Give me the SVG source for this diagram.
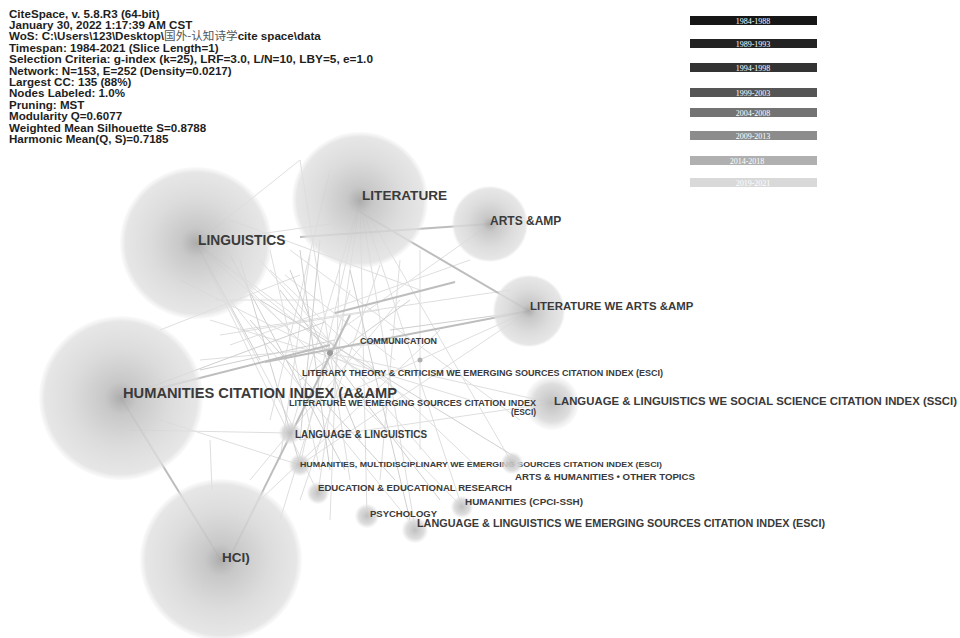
<svg xmlns="http://www.w3.org/2000/svg" width="960" height="638" viewBox="0 0 960 638">
<defs>
<radialGradient id="big" cx="50%" cy="50%" r="50%">
<stop offset="0" stop-color="#a8a8a8" stop-opacity="0.95"/>
<stop offset="0.2" stop-color="#c2c2c2" stop-opacity="0.9"/>
<stop offset="0.6" stop-color="#d6d6d6" stop-opacity="0.85"/>
<stop offset="0.93" stop-color="#e0e0e0" stop-opacity="0.8"/>
<stop offset="1" stop-color="#e8e8e8" stop-opacity="0.2"/>
</radialGradient>
<radialGradient id="small" cx="50%" cy="50%" r="50%">
<stop offset="0" stop-color="#bdbdbd" stop-opacity="0.95"/>
<stop offset="0.7" stop-color="#d8d8d8" stop-opacity="0.85"/>
<stop offset="1" stop-color="#e6e6e6" stop-opacity="0.2"/>
</radialGradient>
</defs>
<style>
.hd{font-family:"Liberation Sans",Arial,"Noto Sans CJK SC",sans-serif;font-weight:bold;font-size:11.6px;fill:#1e1e1e}
.cjk{font-family:"Noto Sans CJK SC",sans-serif;font-weight:normal;fill:#555}
.lg{font-family:"Liberation Serif",serif;font-size:8px;fill:#ffffff;text-anchor:middle}
.lb{font-family:"Liberation Sans",Arial,sans-serif;font-weight:bold;fill:#3a3a3a}
.e1{stroke:#cfcfcf;stroke-width:1;fill:none}
.e2{stroke:#bdbdbd;stroke-width:2;fill:none}
.e3{stroke:#dedede;stroke-width:1;fill:none}
</style>
<rect width="960" height="638" fill="#ffffff"/>

<g id="header">
<text class="hd" x="9" y="17.5">CiteSpace, v. 5.8.R3 (64-bit)</text>
<text class="hd" x="9" y="28.9">January 30, 2022 1:17:39 AM CST</text>
<text class="hd" x="9" y="40.3">WoS: C:\Users\123\Desktop\<tspan class="cjk">国外-认知诗学</tspan>cite space\data</text>
<text class="hd" x="9" y="51.7">Timespan: 1984-2021 (Slice Length=1)</text>
<text class="hd" x="9" y="63.1" textLength="364" lengthAdjust="spacingAndGlyphs">Selection Criteria: g-index (k=25), LRF=3.0, L/N=10, LBY=5, e=1.0</text>
<text class="hd" x="9" y="74.5">Network: N=153, E=252 (Density=0.0217)</text>
<text class="hd" x="9" y="85.9">Largest CC: 135 (88%)</text>
<text class="hd" x="9" y="97.3">Nodes Labeled: 1.0%</text>
<text class="hd" x="9" y="108.7">Pruning: MST</text>
<text class="hd" x="9" y="120.1">Modularity Q=0.6077</text>
<text class="hd" x="9" y="131.5">Weighted Mean Silhouette S=0.8788</text>
<text class="hd" x="9" y="142.9">Harmonic Mean(Q, S)=0.7185</text>
</g>

<g id="legend">
<rect x="690" y="16" width="127" height="9" fill="#161616"/>
<text class="lg" x="753" y="23.5">1984-1988</text>
<rect x="690" y="39" width="127" height="9" fill="#232323"/>
<text class="lg" x="753" y="46.5">1989-1993</text>
<rect x="690" y="63" width="127" height="9" fill="#333333"/>
<text class="lg" x="753" y="70.5">1994-1998</text>
<rect x="690" y="88" width="127" height="9" fill="#555555"/>
<text class="lg" x="753" y="95.5">1999-2003</text>
<rect x="690" y="108" width="127" height="9" fill="#737373"/>
<text class="lg" x="753" y="115.5">2004-2008</text>
<rect x="690" y="131" width="127" height="9" fill="#8c8c8c"/>
<text class="lg" x="753" y="138.5">2009-2013</text>
<rect x="690" y="156" width="127" height="9" fill="#b0b0b0"/>
<text class="lg" x="747" y="163.5">2014-2018</text>
<rect x="690" y="178" width="127" height="9" fill="#d9d9d9"/>
<text class="lg" x="753" y="185.5">2019-2021</text>
</g>

<g id="connectors">
<line class="e3" x1="196" y1="243" x2="300" y2="160"/>
<line class="e3" x1="196" y1="243" x2="330" y2="224"/>
<line class="e3" x1="196" y1="243" x2="290" y2="330"/>
<line class="e3" x1="196" y1="243" x2="300" y2="440"/>
<line class="e3" x1="196" y1="243" x2="318" y2="493"/>
<line class="e3" x1="196" y1="243" x2="370" y2="380"/>
<line class="e3" x1="196" y1="243" x2="410" y2="400"/>
<line class="e3" x1="180" y1="280" x2="360" y2="370"/>
<line class="e3" x1="230" y1="300" x2="415" y2="528"/>
<line class="e3" x1="250" y1="290" x2="462" y2="507"/>
<line class="e3" x1="360" y1="200" x2="300" y2="465"/>
<line class="e3" x1="360" y1="200" x2="318" y2="493"/>
<line class="e3" x1="360" y1="200" x2="367" y2="516"/>
<line class="e3" x1="360" y1="200" x2="415" y2="528"/>
<line class="e3" x1="360" y1="200" x2="462" y2="507"/>
<line class="e3" x1="360" y1="200" x2="512" y2="463"/>
<line class="e3" x1="360" y1="200" x2="290" y2="433"/>
<line class="e3" x1="330" y1="170" x2="270" y2="420"/>
<line class="e3" x1="300" y1="160" x2="350" y2="480"/>
<line class="e3" x1="340" y1="260" x2="330" y2="520"/>
<line class="e3" x1="400" y1="260" x2="380" y2="480"/>
<line class="e3" x1="420" y1="250" x2="420" y2="450"/>
<line class="e3" x1="270" y1="270" x2="480" y2="470"/>
<line class="e3" x1="290" y1="250" x2="520" y2="420"/>
<line class="e3" x1="240" y1="330" x2="510" y2="290"/>
<line class="e3" x1="230" y1="345" x2="470" y2="260"/>
<line class="e3" x1="200" y1="360" x2="420" y2="340"/>
<line class="e3" x1="210" y1="320" x2="470" y2="400"/>
<line class="e3" x1="250" y1="480" x2="400" y2="300"/>
<line class="e3" x1="260" y1="500" x2="440" y2="330"/>
<line class="e3" x1="280" y1="520" x2="350" y2="290"/>
<line class="e3" x1="160" y1="330" x2="300" y2="275"/>
<line class="e3" x1="230" y1="220" x2="420" y2="290"/>
<line class="e3" x1="552" y1="403" x2="330" y2="353"/>
<line class="e3" x1="552" y1="403" x2="300" y2="440"/>
<line class="e3" x1="529" y1="311" x2="330" y2="400"/>
<line class="e3" x1="529" y1="311" x2="300" y2="465"/>
<line class="e3" x1="490" y1="224" x2="340" y2="330"/>
<line class="e3" x1="160" y1="420" x2="300" y2="465"/>
<line class="e3" x1="130" y1="430" x2="290" y2="433"/>
<line class="e3" x1="210" y1="440" x2="212" y2="490"/>
<line class="e3" x1="270" y1="250" x2="320" y2="470"/>
<line class="e3" x1="310" y1="255" x2="280" y2="460"/>
<line class="e3" x1="260" y1="260" x2="440" y2="470"/>
<line class="e3" x1="380" y1="265" x2="300" y2="500"/>
<line class="e3" x1="215" y1="300" x2="320" y2="300"/>
<line class="e3" x1="220" y1="335" x2="380" y2="310"/>
<line class="e3" x1="285" y1="275" x2="395" y2="360"/>
<line class="e1" x1="230" y1="255" x2="345" y2="470"/>
<line class="e1" x1="240" y1="260" x2="300" y2="465"/>
<line class="e1" x1="300" y1="250" x2="330" y2="470"/>
<line class="e1" x1="320" y1="240" x2="300" y2="440"/>
<line class="e1" x1="350" y1="270" x2="410" y2="520"/>
<line class="e1" x1="280" y1="290" x2="440" y2="500"/>
<line class="e1" x1="250" y1="320" x2="395" y2="480"/>
<line class="e1" x1="200" y1="370" x2="335" y2="340"/>
<line class="e1" x1="260" y1="300" x2="520" y2="460"/>
<line class="e1" x1="529" y1="311" x2="390" y2="330"/>
<line class="e1" x1="300" y1="380" x2="410" y2="300"/>
<line class="e1" x1="290" y1="270" x2="360" y2="440"/>
<line class="e2" x1="360" y1="212" x2="529" y2="311"/>
<line class="e2" x1="490" y1="224" x2="300" y2="237"/>
<line class="e2" x1="121" y1="398" x2="221" y2="560"/>
<line class="e2" x1="232" y1="553" x2="350" y2="315"/>
<line class="e2" x1="529" y1="311" x2="265" y2="362"/>
<line class="e2" x1="335" y1="313" x2="455" y2="282"/>
<line class="e2" x1="121" y1="398" x2="330" y2="345"/>
<line class="e1" x1="121" y1="398" x2="325" y2="322"/>
<line class="e1" x1="196" y1="243" x2="260" y2="360"/>
</g>

<g id="node-linguistics">
<circle cx="196" cy="243" r="76" fill="url(#big)"/>
<text class="lb" x="198" y="245" font-size="13.8">LINGUISTICS</text>
</g>
<g id="node-literature">
<circle cx="360" cy="200" r="68" fill="url(#big)"/>
<text class="lb" x="362" y="200" font-size="13.6">LITERATURE</text>
</g>
<g id="node-arts">
<circle cx="490" cy="224" r="38" fill="url(#big)"/>
<text class="lb" x="490" y="225" font-size="12">ARTS &amp;AMP</text>
</g>
<g id="node-literature-we-arts">
<circle cx="529" cy="311" r="36" fill="url(#big)"/>
<text class="lb" x="530" y="310" font-size="11.4">LITERATURE WE ARTS &amp;AMP</text>
</g>
<g id="node-humanities-citation">
<circle cx="121" cy="398" r="82" fill="url(#big)"/>
<text class="lb" x="123" y="398" font-size="14.5" textLength="274" lengthAdjust="spacingAndGlyphs">HUMANITIES CITATION INDEX (A&amp;AMP</text>
</g>
<g id="node-hci">
<circle cx="221" cy="560" r="81" fill="url(#big)"/>
<text class="lb" x="222" y="562" font-size="13.5">HCI)</text>
</g>
<g id="node-lang-ling-ssci">
<circle cx="552" cy="403" r="27" fill="url(#small)"/>
<text class="lb" x="554" y="405" font-size="11" textLength="403" lengthAdjust="spacingAndGlyphs">LANGUAGE &amp; LINGUISTICS WE SOCIAL SCIENCE CITATION INDEX (SSCI)</text>
</g>
<g id="node-communication">
<circle cx="330" cy="353" r="3" fill="#9a9a9a"/>
<text class="lb" x="360" y="344" font-size="8.8" textLength="77" lengthAdjust="spacingAndGlyphs">COMMUNICATION</text>
</g>
<g id="node-literary-theory">
<circle cx="420" cy="360" r="2.5" fill="#b0b0b0"/>
<text class="lb" x="302" y="376" font-size="8.2" textLength="361" lengthAdjust="spacingAndGlyphs">LITERARY THEORY &amp; CRITICISM WE EMERGING SOURCES CITATION INDEX (ESCI)</text>
</g>
<g id="node-literature-esci">
<text class="lb" x="289" y="406" font-size="8.4" textLength="247" lengthAdjust="spacingAndGlyphs">LITERATURE WE EMERGING SOURCES CITATION INDEX</text>
<text class="lb" x="536" y="415" font-size="8.4" text-anchor="end">(ESCI)</text>
</g>
<g id="node-language-linguistics">
<circle cx="290" cy="433" r="11" fill="url(#small)"/>
<text class="lb" x="295" y="438" font-size="10" textLength="132" lengthAdjust="spacingAndGlyphs">LANGUAGE &amp; LINGUISTICS</text>
</g>
<g id="node-humanities-multi">
<circle cx="300" cy="465" r="11" fill="url(#small)"/>
<text class="lb" x="300" y="467" font-size="7.8" textLength="362" lengthAdjust="spacingAndGlyphs">HUMANITIES, MULTIDISCIPLINARY WE EMERGING SOURCES CITATION INDEX (ESCI)</text>
</g>
<g id="node-arts-humanities">
<circle cx="512" cy="463" r="11" fill="url(#small)"/>
<text class="lb" x="515" y="480" font-size="9.5" textLength="180" lengthAdjust="spacingAndGlyphs">ARTS &amp; HUMANITIES • OTHER TOPICS</text>
</g>
<g id="node-education">
<circle cx="318" cy="493" r="11" fill="url(#small)"/>
<text class="lb" x="318" y="491" font-size="9.2" textLength="194" lengthAdjust="spacingAndGlyphs">EDUCATION &amp; EDUCATIONAL RESEARCH</text>
</g>
<g id="node-humanities-cpci">
<circle cx="462" cy="507" r="11" fill="url(#small)"/>
<text class="lb" x="465" y="505" font-size="9.2" textLength="118" lengthAdjust="spacingAndGlyphs">HUMANITIES (CPCI-SSH)</text>
</g>
<g id="node-psychology">
<circle cx="367" cy="516" r="12" fill="url(#small)"/>
<text class="lb" x="370" y="517" font-size="9" textLength="67" lengthAdjust="spacingAndGlyphs">PSYCHOLOGY</text>
</g>
<g id="node-lang-ling-esci">
<circle cx="415" cy="530" r="13" fill="url(#small)"/>
<text class="lb" x="417" y="527" font-size="10.5" textLength="408" lengthAdjust="spacingAndGlyphs">LANGUAGE &amp; LINGUISTICS WE EMERGING SOURCES CITATION INDEX (ESCI)</text>
</g>
</svg>
